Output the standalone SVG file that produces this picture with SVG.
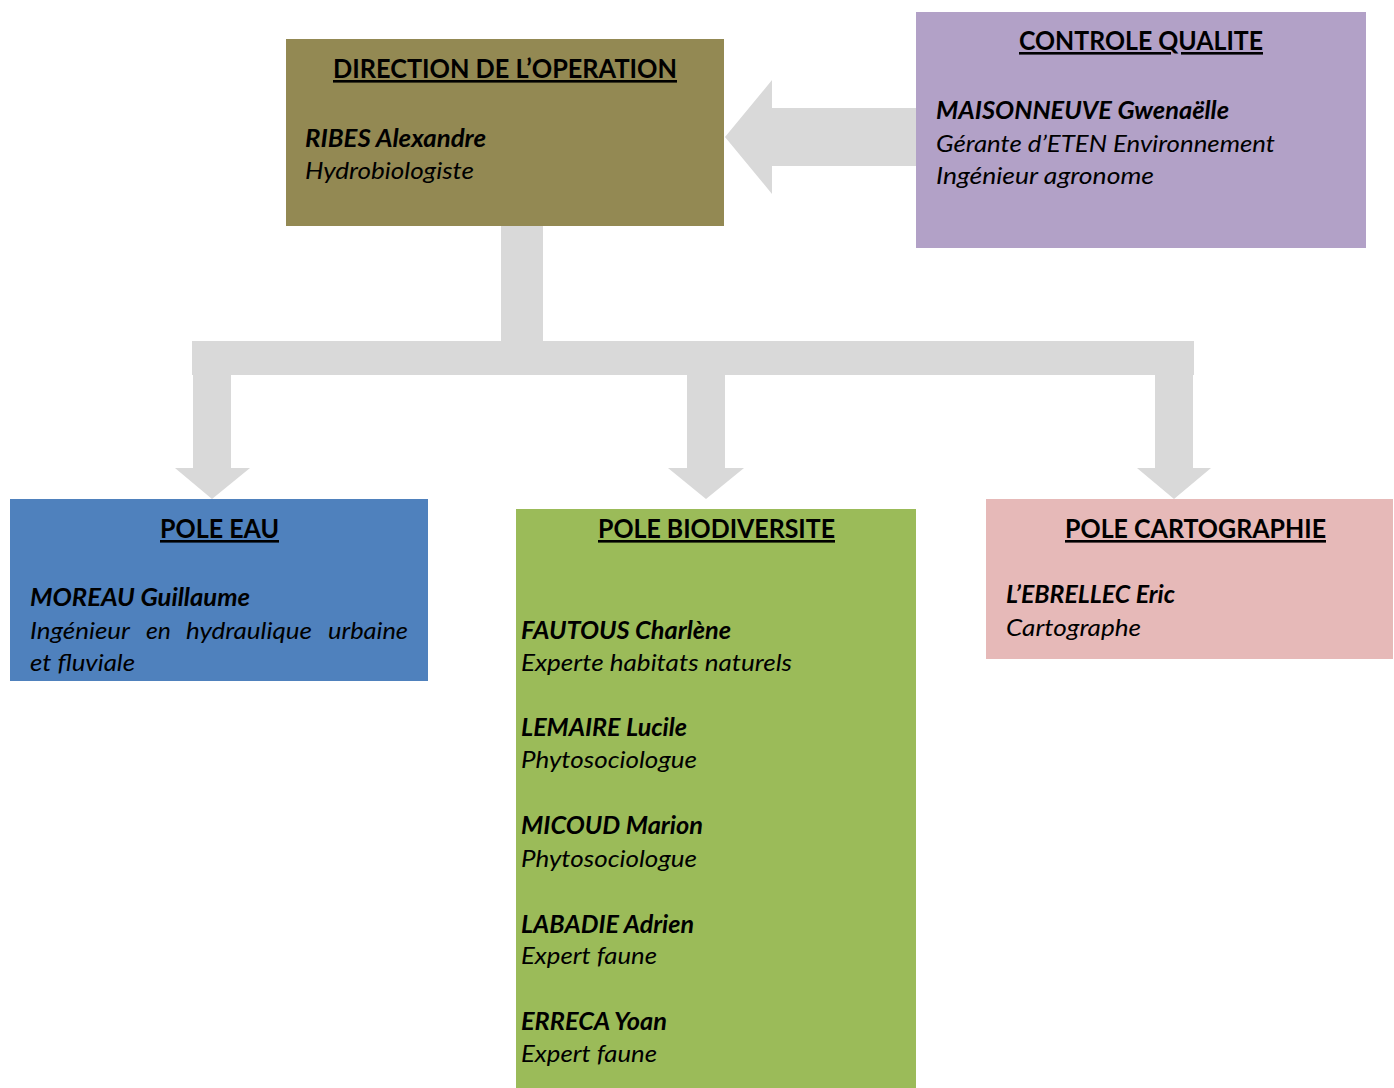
<svg xmlns="http://www.w3.org/2000/svg" width="1394" height="1088" viewBox="0 0 1394 1088">
<style>
text{font-family:Lato,"Open Sans","Liberation Sans",sans-serif;fill:#000;}
.t{font-size:26px;font-weight:700;text-decoration:underline;}
.n{font-size:24px;font-weight:700;font-style:italic;}
.r{font-size:24px;font-style:italic;}
.arr{fill:#D9D9D9;}
</style>
<rect width="1394" height="1088" fill="#fff"/>
<g id="connectors">
<polygon class="arr" points="916,108 772,108 772,80 725,137 772,194 772,166 916,166"/>
<rect class="arr" x="501" y="226" width="42" height="116"/>
<rect class="arr" x="192" y="341" width="1002" height="34"/>
<polygon class="arr" points="193,375 231,375 231,468 250,468 212,499 175,468 193,468"/>
<polygon class="arr" points="687,375 725,375 725,468 744,468 706,499 668,468 687,468"/>
<polygon class="arr" points="1155,375 1193,375 1193,468 1211,468 1174,499 1137,468 1155,468"/>
</g>
<g id="direction">
<rect x="286" y="39" width="438" height="187" fill="#938953"/>
<text class="t" x="333" y="78" textLength="344" lengthAdjust="spacingAndGlyphs">DIRECTION DE L’OPERATION</text>
<text class="n" x="305" y="147" textLength="181" lengthAdjust="spacingAndGlyphs">RIBES Alexandre</text>
<text class="r" x="305" y="179" textLength="169" lengthAdjust="spacingAndGlyphs">Hydrobiologiste</text>
</g>
<g id="controle">
<rect x="916" y="12" width="450" height="236" fill="#B2A1C7"/>
<text class="t" x="1019" y="50" textLength="244" lengthAdjust="spacingAndGlyphs">CONTROLE QUALITE</text>
<text class="n" x="936" y="119" textLength="293" lengthAdjust="spacingAndGlyphs">MAISONNEUVE Gwenaëlle</text>
<text class="r" x="936" y="152" textLength="339" lengthAdjust="spacingAndGlyphs">Gérante d’ETEN Environnement</text>
<text class="r" x="936" y="184" textLength="218" lengthAdjust="spacingAndGlyphs">Ingénieur agronome</text>
</g>
<g id="pole-eau">
<rect x="10" y="499" width="418" height="182" fill="#4F81BD"/>
<text class="t" x="160" y="538" textLength="119" lengthAdjust="spacingAndGlyphs">POLE EAU</text>
<text class="n" x="30" y="606" textLength="220" lengthAdjust="spacingAndGlyphs">MOREAU Guillaume</text>
<text class="r" x="30" y="639" textLength="100" lengthAdjust="spacingAndGlyphs">Ingénieur</text>
<text class="r" x="146" y="639" textLength="25" lengthAdjust="spacingAndGlyphs">en</text>
<text class="r" x="186" y="639" textLength="126" lengthAdjust="spacingAndGlyphs">hydraulique</text>
<text class="r" x="328" y="639" textLength="80" lengthAdjust="spacingAndGlyphs">urbaine</text>
<text class="r" x="30" y="671" textLength="105" lengthAdjust="spacingAndGlyphs">et fluviale</text>
</g>
<g id="pole-biodiversite">
<rect x="516" y="509" width="400" height="579" fill="#9BBB59"/>
<text class="t" x="598" y="538" textLength="237" lengthAdjust="spacingAndGlyphs">POLE BIODIVERSITE</text>
<text class="n" x="521" y="639" textLength="210" lengthAdjust="spacingAndGlyphs">FAUTOUS Charlène</text>
<text class="r" x="521" y="671" textLength="271" lengthAdjust="spacingAndGlyphs">Experte habitats naturels</text>
<text class="n" x="521" y="736" textLength="166" lengthAdjust="spacingAndGlyphs">LEMAIRE Lucile</text>
<text class="r" x="521" y="768" textLength="176" lengthAdjust="spacingAndGlyphs">Phytosociologue</text>
<text class="n" x="521" y="834" textLength="182" lengthAdjust="spacingAndGlyphs">MICOUD Marion</text>
<text class="r" x="521" y="867" textLength="176" lengthAdjust="spacingAndGlyphs">Phytosociologue</text>
<text class="n" x="521" y="933" textLength="173" lengthAdjust="spacingAndGlyphs">LABADIE Adrien</text>
<text class="r" x="521" y="964" textLength="136" lengthAdjust="spacingAndGlyphs">Expert faune</text>
<text class="n" x="521" y="1030" textLength="146" lengthAdjust="spacingAndGlyphs">ERRECA Yoan</text>
<text class="r" x="521" y="1062" textLength="136" lengthAdjust="spacingAndGlyphs">Expert faune</text>
</g>
<g id="pole-cartographie">
<rect x="986" y="499" width="407" height="160" fill="#E6B9B8"/>
<text class="t" x="1065" y="538" textLength="261" lengthAdjust="spacingAndGlyphs">POLE CARTOGRAPHIE</text>
<text class="n" x="1006" y="603" textLength="169" lengthAdjust="spacingAndGlyphs">L’EBRELLEC Eric</text>
<text class="r" x="1006" y="636" textLength="135" lengthAdjust="spacingAndGlyphs">Cartographe</text>
</g>
</svg>
